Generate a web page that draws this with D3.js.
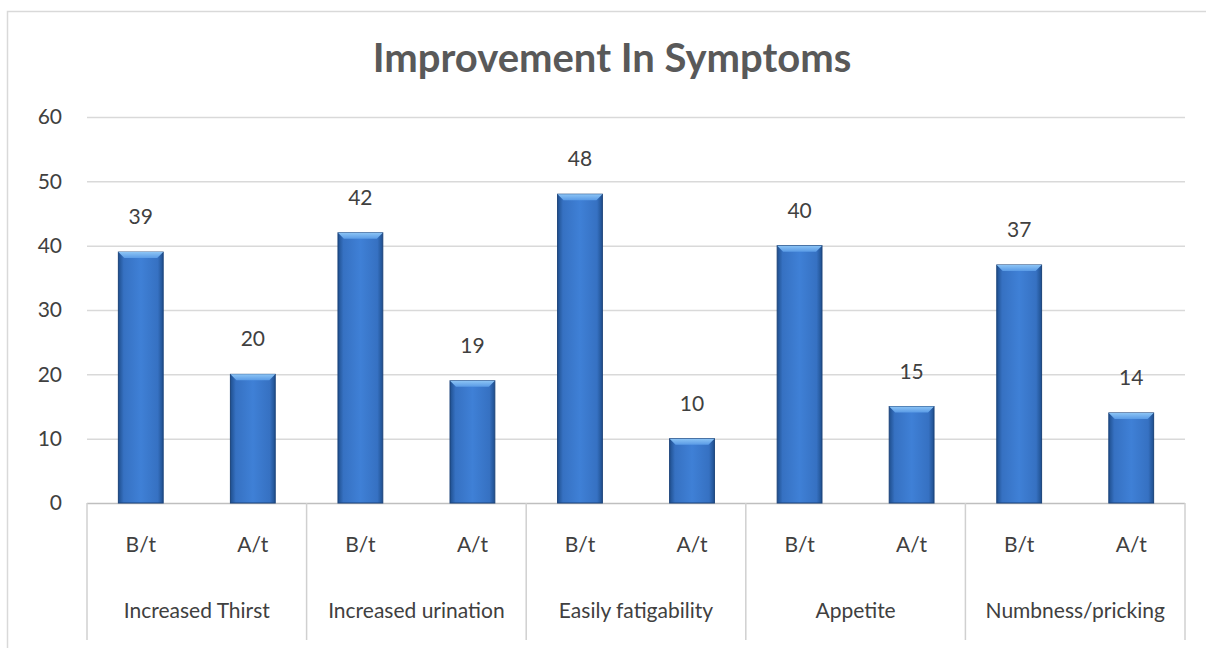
<!DOCTYPE html>
<html>
<head>
<meta charset="utf-8">
<script src="https://cdn.jsdelivr.net/npm/d3@7"></script>
<style>
  body { margin: 0; background: #ffffff; }
  svg { display: block; }
</style>
</head>
<body>
<svg id="chart" width="1206" height="648"></svg>
<script>
// --- data ---
var groups = ['Increased Thirst', 'Increased urination', 'Easily fatigability', 'Appetite', 'Numbness/pricking'];
var phases = ['B/t', 'A/t'];
var before = [39, 42, 48, 40, 37];
var after = [20, 19, 10, 15, 14];
var yTicks = [0, 10, 20, 30, 40, 50, 60];

var svg = d3.select('#chart');
var font = 'Lato, "Open Sans", sans-serif';
var fs = 21;

// outer chart frame
svg.append('rect').attr('x', 7.5).attr('y', 11.5).attr('width', 1210).attr('height', 660)
   .attr('fill', '#ffffff').attr('stroke', '#d9d9d9').attr('stroke-width', 1.5);

var plotL = 87, plotR = 1185, plotT = 117, plotB = 503;

var y = d3.scaleLinear().domain([0, 60]).range([plotB, plotT]);
var xGroup = d3.scaleBand().domain(groups).range([plotL, plotR]).padding(0);
var xPhase = d3.scaleBand().domain(phases).range([0, xGroup.bandwidth()]).paddingInner(0.6).paddingOuter(0.28);

// rows of bars, one per category slot
var rows = [];
groups.forEach(function(g, i) {
    rows.push({ group: g, phase: 'B/t', value: before[i] });
    rows.push({ group: g, phase: 'A/t', value: after[i] });
});

// gradients
var defs = svg.append('defs');
var grad = defs.append('linearGradient').attr('id', 'barGrad').attr('x1', '0%').attr('x2', '100%');
grad.append('stop').attr('offset', '0%').attr('stop-color', '#1f4f8e');
grad.append('stop').attr('offset', '12%').attr('stop-color', '#3671c2');
grad.append('stop').attr('offset', '50%').attr('stop-color', '#3f80d6');
grad.append('stop').attr('offset', '88%').attr('stop-color', '#3671c2');
grad.append('stop').attr('offset', '100%').attr('stop-color', '#1f4f8e');

var topGrad = defs.append('linearGradient').attr('id', 'topGrad').attr('x1', '0%').attr('x2', '0%').attr('y1', '0%').attr('y2', '100%');
topGrad.append('stop').attr('offset', '0%').attr('stop-color', '#8cc4f5');
topGrad.append('stop').attr('offset', '100%').attr('stop-color', '#5a9be6');

// gridlines
svg.append('g').selectAll('line').data(yTicks.slice(1)).enter().append('line')
   .attr('x1', plotL).attr('x2', plotR)
   .attr('y1', function(d) { return y(d) + 0.5; }).attr('y2', function(d) { return y(d) + 0.5; })
   .attr('stroke', '#d9d9d9').attr('stroke-width', 1.5);

// y axis labels
var yAxis = d3.axisLeft(y).tickValues(yTicks).tickSize(0).tickPadding(25);
var ya = svg.append('g').attr('transform', 'translate(' + plotL + ',0)').call(yAxis);
ya.select('.domain').remove();
ya.selectAll('text').attr('font-family', font).attr('font-size', fs).attr('fill', '#404040');

// category frame below axis
svg.append('line').attr('x1', plotL).attr('x2', plotR).attr('y1', plotB + 0.5).attr('y2', plotB + 0.5)
   .attr('stroke', '#bfbfbf').attr('stroke-width', 1.5);
var seps = groups.map(function(g) { return xGroup(g); }).concat([plotR]);
svg.append('g').selectAll('line').data(seps).enter().append('line')
   .attr('x1', function(d) { return d; }).attr('x2', function(d) { return d; })
   .attr('y1', plotB).attr('y2', 640)
   .attr('stroke', '#d0d0d0').attr('stroke-width', 1.5);

// bars
var bars = svg.append('g').selectAll('g').data(rows).enter().append('g')
   .attr('transform', function(d) { return 'translate(' + (xGroup(d.group) + xPhase(d.phase)) + ',0)'; });
var bw = xPhase.bandwidth();
bars.append('rect')
   .attr('x', 0).attr('width', bw)
   .attr('y', function(d) { return y(d.value); })
   .attr('height', function(d) { return plotB - y(d.value); })
   .attr('fill', 'url(#barGrad)').attr('stroke', '#1b437a').attr('stroke-width', 1);
bars.append('path')
   .attr('d', function(d) {
       var t = y(d.value), b = 6;
       return 'M0,' + t + 'L' + bw + ',' + t + 'L' + (bw - b) + ',' + (t + b) + 'L' + b + ',' + (t + b) + 'Z';
   })
   .attr('fill', 'url(#topGrad)');

// value labels
bars.append('text')
   .attr('x', bw / 2).attr('y', function(d) { return y(d.value) - 28; })
   .attr('text-anchor', 'middle')
   .attr('font-family', font).attr('font-size', fs).attr('fill', '#404040')
   .text(function(d) { return d.value; });

// phase labels
bars.append('text')
   .attr('x', bw / 2).attr('y', 552)
   .attr('text-anchor', 'middle')
   .attr('font-family', font).attr('font-size', fs).attr('fill', '#404040')
   .text(function(d) { return d.phase; });

// group labels
svg.append('g').selectAll('text').data(groups).enter().append('text')
   .attr('x', function(d) { return xGroup(d) + xGroup.bandwidth() / 2; })
   .attr('y', 618)
   .attr('text-anchor', 'middle')
   .attr('font-family', font).attr('font-size', fs).attr('fill', '#404040')
   .text(function(d) { return d; });

// title
svg.append('text').attr('x', 612).attr('y', 72)
   .attr('text-anchor', 'middle')
   .attr('font-family', font).attr('font-weight', 'bold').attr('font-size', 40).attr('fill', '#595959')
   .text('Improvement In Symptoms');
</script>
</body>
</html>
